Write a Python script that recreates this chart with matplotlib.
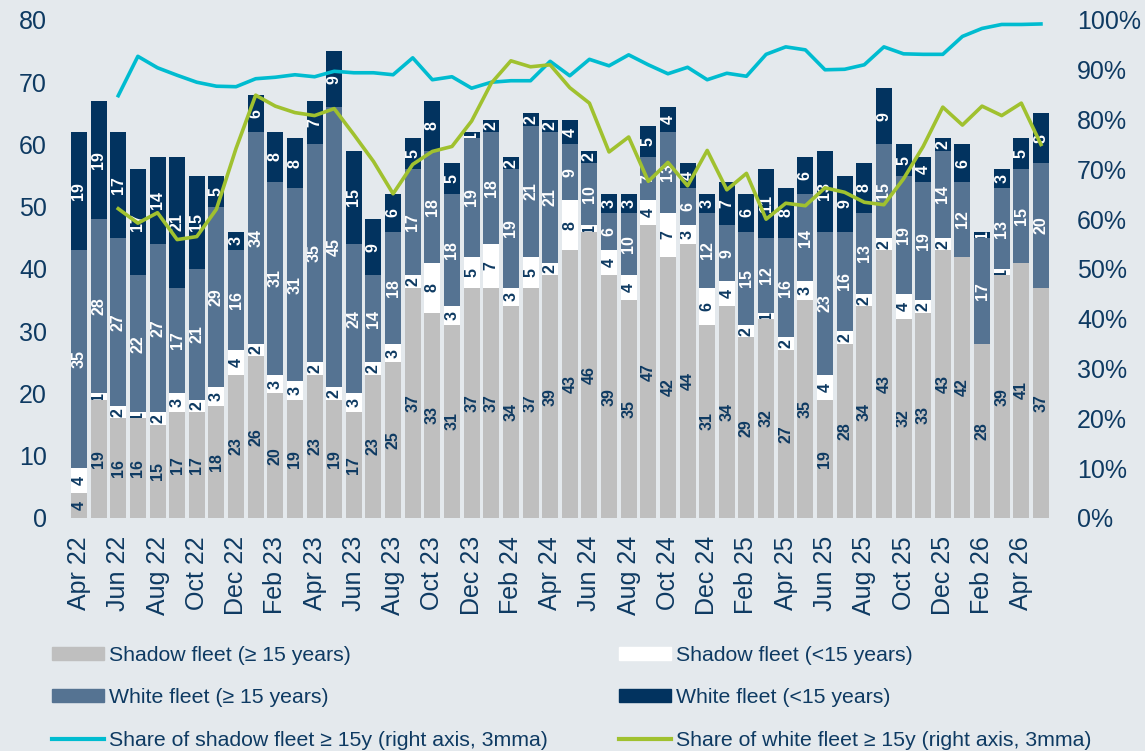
import numpy as np
import matplotlib
matplotlib.use("Agg")
import matplotlib.pyplot as plt
from matplotlib.patches import Patch
from matplotlib.lines import Line2D

plt.rcParams['font.family'] = ['Liberation Sans', 'DejaVu Sans']

# months Apr 22 .. May 26
months = ["Apr 22", "May 22", "Jun 22", "Jul 22", "Aug 22", "Sep 22", "Oct 22", "Nov 22", "Dec 22",
          "Jan 23", "Feb 23", "Mar 23", "Apr 23", "May 23", "Jun 23", "Jul 23", "Aug 23", "Sep 23",
          "Oct 23", "Nov 23", "Dec 23", "Jan 24", "Feb 24", "Mar 24", "Apr 24", "May 24", "Jun 24",
          "Jul 24", "Aug 24", "Sep 24", "Oct 24", "Nov 24", "Dec 24", "Jan 25", "Feb 25", "Mar 25",
          "Apr 25", "May 25", "Jun 25", "Jul 25", "Aug 25", "Sep 25", "Oct 25", "Nov 25", "Dec 25",
          "Jan 26", "Feb 26", "Mar 26", "Apr 26", "May 26"]

shadow_old = [4, 19, 16, 16, 15, 17, 17, 18, 23, 26, 20, 19, 23, 19, 17, 23, 25, 37, 33, 31,
              37, 37, 34, 37, 39, 43, 46, 39, 35, 47, 42, 44, 31, 34, 29, 32, 27, 35, 19, 28,
              34, 43, 32, 33, 43, 42, 28, 39, 41, 37]
shadow_young = [4, 1, 2, 1, 2, 3, 2, 3, 4, 2, 3, 3, 2, 2, 3, 2, 3, 2, 8, 3,
                5, 7, 3, 5, 2, 8, 1, 4, 4, 4, 7, 3, 6, 4, 2, 1, 2, 3, 4, 2,
                2, 2, 4, 2, 2, 0, 0, 1, 0, 0]
white_old = [35, 28, 27, 22, 27, 17, 21, 29, 16, 34, 31, 31, 35, 45, 24, 14, 18, 17, 18, 18,
             19, 18, 19, 21, 21, 9, 10, 6, 10, 7, 13, 6, 12, 9, 15, 12, 16, 14, 23, 16,
             13, 15, 19, 19, 14, 12, 17, 13, 15, 20]
white_young = [19, 19, 17, 17, 14, 21, 15, 5, 3, 6, 8, 8, 7, 9, 15, 9, 6, 5, 8, 5,
               1, 2, 2, 2, 2, 4, 2, 3, 3, 5, 4, 4, 3, 7, 6, 11, 8, 6, 13, 9,
               8, 9, 5, 4, 2, 6, 1, 3, 5, 8]

# 3mma shares (%), from Jun 22 onwards
share_shadow = [84.8, 92.7, 90.4, 88.9, 87.5, 86.7, 86.6, 88.2, 88.5, 89.0, 88.6, 89.7, 89.4, 89.4,
                89.0, 92.4, 88.0, 88.6, 86.3, 87.5, 87.8, 87.8, 91.7, 88.8, 92.1, 90.8, 93.0, 91.0,
                89.2, 90.5, 88.0, 89.3, 88.7, 93.1, 94.6, 94.0, 90.0, 90.1, 91.0, 94.6, 93.2, 93.1,
                93.1, 96.7, 98.3, 99.1, 99.1, 99.2]
share_white = [62.1, 59.2, 61.3, 55.9, 56.5, 62.0, 74.2, 84.9, 82.7, 81.4, 80.8, 82.2, 77.0, 71.6,
               65.1, 71.0, 73.6, 74.6, 79.7, 87.3, 91.8, 90.6, 91.0, 86.4, 83.3, 73.5, 76.5, 67.6,
               71.4, 66.7, 73.8, 65.9, 69.2, 60.0, 63.2, 62.7, 66.3, 65.4, 63.4, 62.9, 68.1, 74.6,
               82.5, 78.9, 82.7, 80.8, 83.3, 75.0]

bg = "#E4E9ED"
txt = "#0E3A62"
c_grey = "#BFBFBF"
c_white = "#FFFFFF"
c_mid = "#557392"
c_navy = "#02335F"
c_cyan = "#00BCD0"
c_green = "#A0C12F"

fig = plt.figure(figsize=(11.45, 7.51), dpi=100, facecolor=bg)
ax = fig.add_axes([0.0604, 0.3103, 0.8573, 0.6631])
ax.set_facecolor(bg)

x = np.arange(len(months))
bw = 0.815
series = [(shadow_old, c_grey, txt), (shadow_young, c_white, txt),
          (white_old, c_mid, "white"), (white_young, c_navy, "white")]
bottom = np.zeros(len(months))
for vals, col, lab_col in series:
    vals = np.array(vals, dtype=float)
    bars = ax.bar(x, vals, bw, bottom=bottom, color=col, zorder=2)
    for rect, v, b in zip(bars, vals, bottom):
        if v <= 0:
            continue
        t = ax.text(rect.get_x() + rect.get_width() / 2, b + v / 2, f"{int(v)}",
                    rotation=90, ha="center", va="center", rotation_mode="anchor",
                    fontsize=11.5, fontweight="bold", color=lab_col, zorder=3)
        t.set_clip_path(rect)
        t.set_clip_on(True)
    bottom += vals

ax.set_xlim(-0.5, len(months) - 0.5)
ax.set_ylim(0, 80)
ax.set_yticks(range(0, 81, 10))
ax.set_xticks(x[::2])
ax.set_xticklabels(months[::2], rotation=90)
ax.tick_params(axis="x", length=0, pad=13, labelsize=18, labelcolor=txt)
ax.tick_params(axis="y", length=0, pad=16, labelsize=18, labelcolor=txt)
for s in ax.spines.values():
    s.set_visible(False)

ax2 = ax.twinx()
ax2.plot(x[2:], share_shadow, color=c_cyan, lw=2.6, zorder=4)
ax2.plot(x[2:], share_white, color=c_green, lw=2.6, zorder=4)
ax2.set_ylim(0, 100)
ax2.set_yticks(range(0, 101, 10))
ax2.set_yticklabels([f"{v}%" for v in range(0, 101, 10)])
ax2.tick_params(axis="y", length=0, pad=19, labelsize=18, labelcolor=txt)
for s in ax2.spines.values():
    s.set_visible(False)

h_left = [Patch(color=c_grey, label="Shadow fleet (\u2265 15 years)"),
          Patch(color=c_mid, label="White fleet (\u2265 15 years)"),
          Line2D([], [], color=c_cyan, lw=3, label="Share of shadow fleet \u2265 15y (right axis, 3mma)")]
h_right = [Patch(color=c_white, label="Shadow fleet (<15 years)"),
           Patch(color=c_navy, label="White fleet (<15 years)"),
           Line2D([], [], color=c_green, lw=3, label="Share of white fleet \u2265 15y (right axis, 3mma)")]

leg_kw = dict(loc="upper left", frameon=False, fontsize=15.3, labelcolor=txt,
              handlelength=2.45, handleheight=0.55, handletextpad=0.25,
              labelspacing=1.1, borderpad=0, borderaxespad=0)
fig.legend(handles=h_left, bbox_to_anchor=(52 / 1145, 1 - 646 / 751), **leg_kw)
fig.legend(handles=h_right, bbox_to_anchor=(619 / 1145, 1 - 646 / 751), **leg_kw)

fig.savefig("out.png", dpi=100, facecolor=bg)
